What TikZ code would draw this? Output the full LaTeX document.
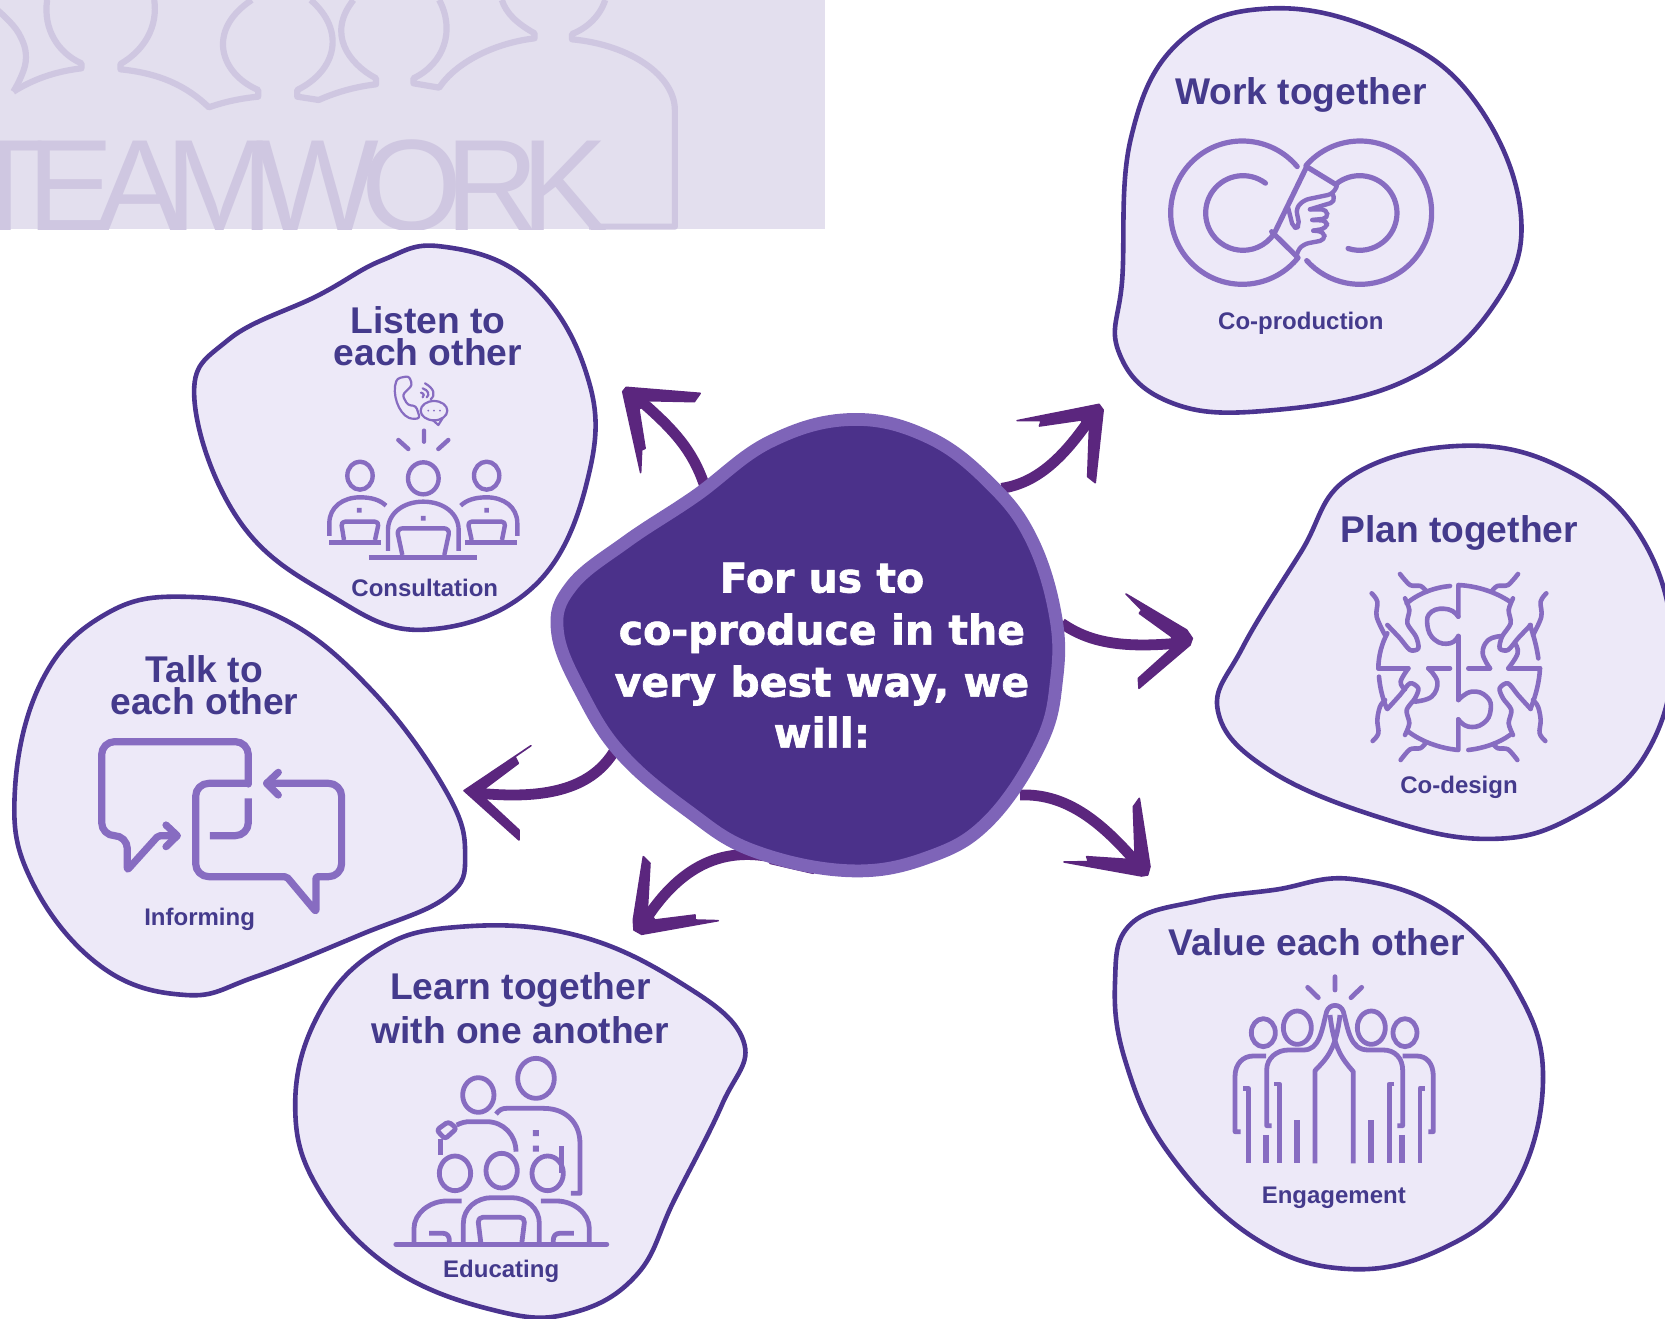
\documentclass[tikz,border=0pt]{standalone}
\usepackage{fontspec}
\setmainfont{Liberation Sans}
\newfontfamily\teamf{Liberation Sans}[LetterSpace=-13.5]
\newfontfamily\hubf{DejaVu Sans}[BoldFeatures={FakeBold=1.6}]
\definecolor{bgrect}{HTML}{E3DFEE}
\definecolor{bgline}{HTML}{CFC7E1}
\definecolor{blobfill}{HTML}{EDE9F8}
\definecolor{blobline}{HTML}{4B3490}
\definecolor{hubfill}{HTML}{4B318A}
\definecolor{hubline}{HTML}{7E64B8}
\definecolor{arrowc}{HTML}{5B267E}
\definecolor{iconc}{HTML}{876CC1}
\definecolor{textc}{HTML}{443A8C}
\tikzset{
  x=0.5pt,y=-0.5pt,
  blob/.style={draw=blobline,fill=blobfill,line width=2.3pt},
  hubshape/.style={draw=hubline,fill=hubfill,line width=6.4pt},
  shaft/.style={draw=arrowc,line width=5.4pt},
  head/.style={fill=arrowc,draw=arrowc,line width=.8pt,line join=round},
  icon/.style={draw=iconc,line width=#1,line cap=round,line join=round},
  icon/.default=2.3pt,
  square/.style={fill=iconc},
  bgart/.style={bgline,line width=3.1pt,line join=round},
  title/.style={text=textc,align=center,font=\bfseries\fontsize{18.6}{#1}\selectfont,inner sep=0pt},
  title/.default=22,
  sub/.style={text=textc,font=\bfseries\fontsize{12}{14}\selectfont,inner sep=0pt},
  hubtext/.style={text=white,anchor=base,font=\hubf\bfseries\fontsize{20.5}{26}\selectfont,inner sep=0pt},
}
\begin{document}
\begin{tikzpicture}
\clip (0,0) rectangle (1665,1318);
\useasboundingbox (0,0) rectangle (1665,1318);
% background picture
\begin{scope}
\clip (0,0) rectangle (825,229);
\fill[bgrect] (0,0) rectangle (825,229);
\node[anchor=base west,inner sep=0pt,text=bgline,font=\teamf\fontsize{65}{65}\selectfont] (team) at (-35,230) {TEAMWORK};
\begin{scope}[xscale=0.5356,yscale=0.3333]
\draw[bgart] plot[smooth,tension=.7] coordinates {(-5,30) (35,100) (48,185) (25,275)};
\draw[bgart] (25,275) .. controls (60,240) and (100,215) .. (152,205) -- (152,190) .. controls (110,160) and (80,90) .. (88,0);
\draw[bgart] (288,0) .. controls (295,80) and (270,150) .. (225,192) -- (225,208) .. controls (300,220) and (350,260) .. (390,322) .. controls (420,305) and (450,295) .. (482,290) -- (482,270) .. controls (410,220) and (385,90) .. (470,0);
\draw[bgart] (580,0) .. controls (645,90) and (630,210) .. (555,270) -- (555,290) -- (595,300) .. controls (630,275) and (665,260) .. (702,253) -- (702,235) .. controls (650,190) and (610,100) .. (660,0);
\draw[bgart] (820,0) .. controls (850,90) and (830,190) .. (772,235) -- (772,250) -- (820,263) .. controls (850,190) and (920,130) .. (998,115) -- (998,100) .. controls (965,70) and (945,40) .. (937,0);
\draw[bgart] (1130,0) .. controls (1120,50) and (1095,85) .. (1068,102) -- (1068,118) .. controls (1180,135) and (1260,230) .. (1260,330) -- (1260,680) -- (1100,680);
\end{scope}
\end{scope}
% arrows, under the hub
\coordinate (a1s) at (705.5,488.6);
\coordinate (a1t) at (636.5,397.2);
\coordinate (a2s) at (1001.5,488.3);
\coordinate (a2t) at (1092.7,415);
\coordinate (a3s) at (1061.7,623.3);
\coordinate (a3t) at (1176.7,643.3);
\coordinate (a4s) at (1020,795);
\coordinate (a4t) at (1140,866.7);
\coordinate (a5s) at (615,750);
\coordinate (a5t) at (480,793.3);
\coordinate (a6s) at (770,856.7);
\coordinate (a6t) at (643.3,923.3);
\draw[shaft] (a1s) .. controls (693,449) and (672,428) .. (a1t);
\draw[shaft] (a2s) .. controls (1038,483) and (1065,456) .. (a2t);
\draw[shaft] (a3s) .. controls (1090,643) and (1123,648) .. (a3t);
\draw[shaft] (a4s) .. controls (1067,793) and (1103,823) .. (a4t);
\draw[shaft] (a5s) .. controls (593,787) and (550,800) .. (a5t);
\draw[shaft] (a6s) .. controls (717,847) and (677,870) .. (a6t);
\begin{scope}[shift={(590,380)},xscale=0.3444,yscale=0.3333]
\filldraw[head] (95,35) -- (105,22) -- (320,40) -- (303,65) -- (170,62) -- (142,88) -- (160,205) -- (150,210) -- (147,278) -- cycle;
\filldraw[head] (1490,90) -- (1478,73) -- (1240,122) -- (1310,122) -- (1305,138) -- (1425,120) -- (1450,150) -- (1445,290) -- (1467,308) -- cycle;
\end{scope}
\begin{scope}[shift={(990,580)},scale=0.3333]
\filldraw[head] (607,175) -- (590,150) -- (408,42) -- (455,90) -- (448,100) -- (545,170) -- (545,205) -- (445,295) -- (447,325) -- (600,195) -- cycle;
\filldraw[head] (480,860) -- (473,885) -- (455,888) -- (222,846) -- (295,845) -- (290,830) -- (410,838) -- (435,815) -- (430,680) -- (448,655) -- cycle;
\end{scope}
\begin{scope}[shift={(450,700)},scale=0.3333]
\filldraw[head] (42,272) -- (243,137) -- (195,170) -- (205,190) -- (105,265) -- (110,300) -- (207,390) -- (207,420) -- cycle;
\filldraw[head] (580,470) -- (600,490) -- (592,630) -- (615,660) -- (735,645) -- (735,660) -- (805,662) -- (575,703) -- (552,690) -- (550,660) -- cycle;
\filldraw[head] (960,465) -- (1090,520) -- (960,490) -- cycle;
\end{scope}
% blobs, coordinates as shown at 1568 wide
\begin{scope}[scale=1.0619]
\draw[blob] plot[smooth cycle,tension=.68] coordinates {(1195,8) (1300,30) (1385,90) (1432,200) (1405,290) (1320,360) (1190,387) (1100,378) (1053,330) (1057,260) (1065,130) (1110,40)};
\draw[blob] plot[smooth cycle,tension=.68] coordinates {(415,232) (495,262) (550,345) (556,440) (505,550) (400,593) (310,560) (225,490) (183,375) (215,320) (300,278) (360,245)};
\draw[blob] plot[smooth cycle,tension=.68] coordinates {(1372,420) (1470,440) (1545,505) (1575,610) (1550,710) (1480,770) (1400,790) (1300,770) (1195,725) (1147,670) (1170,610) (1225,520) (1270,450)};
\draw[blob] plot[smooth cycle,tension=.68] coordinates {(175,562) (265,582) (350,650) (420,745) (438,805) (420,845) (340,880) (240,920) (175,937) (95,910) (30,830) (14,745) (40,640) (100,578)};
\draw[blob] plot[smooth cycle,tension=.68] coordinates {(430,873) (540,880) (640,925) (700,980) (680,1040) (635,1130) (600,1200) (540,1236) (470,1235) (370,1195) (300,1120) (278,1040) (300,955) (355,895)};
\draw[blob] plot[smooth cycle,tension=.68] coordinates {(1275,828) (1365,860) (1430,935) (1453,1020) (1425,1120) (1360,1175) (1270,1195) (1180,1165) (1100,1085) (1060,1000) (1050,925) (1065,870) (1130,848) (1200,838)};
\draw[hubshape] plot[smooth cycle,tension=.66] coordinates {(802,395) (875,412) (934,457) (972,509) (994,580) (995,640) (980,700) (932,772) (875,807) (800,820) (709,801) (647,763) (586,711) (549,655) (525,595) (538,552) (590,510) (655,467) (725,416)};
% text
\node[title=16] (t1) at (1225,89.5) {Work together};
\node[sub] (s1) at (1225,304.5) {Co-production};
\node[title=16] (t2) at (403,317) {Listen to\\each other};
\node[sub] (s2) at (400,554) {Consultation};
\node[title=16] (t3) at (1374,502) {Plan together};
\node[sub] (s3) at (1374,741) {Co-design};
\node[title=16] (t4) at (192.5,645) {Talk to\\each other};
\node[sub] (s4) at (188,866) {Informing};
\node[title=21.8] (t5) at (490,949.5) {Learn together\\with one another};
\node[sub] (s5) at (472,1197.5) {Educating};
\node[title=16] (t6) at (1240,887.5) {Value each other};
\node[sub] (s6) at (1256,1128) {Engagement};
\node[hubtext] (h1) at (774,558) {For us to};
\node[hubtext] (h2) at (774,607) {co-produce in the};
\node[hubtext] (h3) at (774,656) {very best way, we};
\node[hubtext] (h4) at (774,704) {will:};
\end{scope}
% co-production icon
\begin{scope}[shift={(1150,120)},scale=0.3333]
\draw[icon=2.6pt] (277,278) ++(-40:215) arc (-40:-321:215) -- (365,335);
\draw[icon=2.6pt] (279,279) ++(-53:112) arc (-53:-327:112) -- (470,140);
\draw[icon=2.6pt] (630,278) ++(-139:215) arc (-139:138:215);
\draw[icon=2.6pt] (470,140) -- (560,195);
\draw[icon=2.6pt] (629,279) ++(-130:112) arc (-130:108:112);
\draw[icon=2.2pt,rounded corners=2.5pt] (560,200) -- (548,222) -- (462,240) -- (438,265) -- (449,320) -- (430,325) -- (414,262);
\draw[icon=2.2pt,rounded corners=2.5pt] (548,222) -- (556,245) -- (480,268);
\draw[icon=2.2pt,rounded corners=2.5pt] (480,268) -- (530,268) -- (534,295) -- (487,300);
\draw[icon=2.2pt,rounded corners=2.5pt] (487,300) -- (532,302) -- (530,325) -- (490,332);
\draw[icon=2.2pt,rounded corners=2.5pt] (490,332) -- (522,335) -- (525,360) -- (462,372) -- (442,392) -- (440,410);
\end{scope}
% consultation icon
\begin{scope}[shift={(310,360)},scale=0.3333]
\draw[icon=2.2pt] (150,347) ellipse (38 and 42) (340,355) ellipse (46 and 48) (530,347) ellipse (38 and 42);
\draw[icon=2.2pt,line cap=butt] (58,528) -- (58,490) .. controls (58,440) and (100,412) .. (150,412) .. controls (185,412) and (210,420) .. (228,437);
\draw[icon=2.2pt,line cap=butt] (234,573) -- (234,510) .. controls (234,460) and (280,425) .. (340,425) .. controls (400,425) and (446,460) .. (446,510) -- (446,573);
\draw[icon=2.2pt,line cap=butt] (622,528) -- (622,490) .. controls (622,440) and (580,412) .. (530,412) .. controls (495,412) and (470,420) .. (452,437);
\fill[square] (141,444) rectangle (155,458) (333,468) rectangle (347,482) (523,444) rectangle (537,458);
\draw[icon=2.2pt,rounded corners=2pt,line cap=butt] (102,540) -- (93,485) -- (207,485) -- (195,540);
\draw[icon=2.2pt,rounded corners=2pt,line cap=butt] (485,540) -- (473,485) -- (587,485) -- (576,540);
\draw[icon=2.2pt,rounded corners=3pt,line cap=butt] (277,585) -- (260,505) -- (420,505) -- (403,585);
\draw[iconc,line width=2.4pt] (57,547) -- (213,547) (465,547) -- (621,547) (177,592) -- (501,592);
\draw[icon=2.2pt] (342,212) -- (342,245) (265,240) -- (295,267) (385,267) -- (415,240);
\draw[icon=1.1pt,rounded corners=1.5pt] (297,48) -- (262,55) .. controls (245,100) and (265,160) .. (305,177) -- (330,175) -- (318,138) -- (293,135) -- (277,105) -- (307,75) -- cycle;
\draw[icon=1.1pt] (372,152) ellipse (40 and 29);
\draw[icon=1.1pt] (368,180) -- (385,195) -- (397,176);
\fill[square] (355,152) circle (3) (372,152) circle (3) (390,152) circle (3);
\draw[icon=1.1pt] (345,70) .. controls (372,85) and (378,105) .. (362,118) (338,85) .. controls (355,90) and (360,105) .. (350,112) (333,98) .. controls (342,100) and (345,108) .. (338,112);
\end{scope}
% co-design icon
\begin{scope}[shift={(1350,560)},scale=0.3333]
\draw[icon] (300,78) .. controls (255,82) and (205,100) .. (170,130);
\draw[icon] (325,170) -- (325,75) .. controls (380,78) and (435,95) .. (480,125);
\draw[icon] plot[smooth,tension=.8] coordinates {(325,170) (295,148) (245,155) (232,195) (255,240) (300,250) (325,228)};
\draw[icon] (325,228) -- (325,420);
\draw[icon] plot[smooth,tension=.8] coordinates {(325,420) (365,395) (410,410) (422,450) (400,490) (355,500) (325,478)};
\draw[icon] (325,478) -- (325,570) .. controls (270,565) and (215,545) .. (175,515);
\draw[icon] (355,570) .. controls (400,565) and (445,550) .. (480,525);
\draw[icon] (85,325) -- (175,325) (235,325) -- (300,325) (355,325) -- (420,325) (475,325) -- (570,325);
\draw[icon] (112,220) .. controls (95,250) and (85,290) .. (85,325);
\draw[icon] (87,350) .. controls (90,385) and (98,415) .. (110,445);
\draw[icon] (565,295) .. controls (560,260) and (552,230) .. (540,195);
\draw[icon] (570,325) .. controls (568,365) and (558,405) .. (542,445);
\draw[icon] plot[smooth,tension=.7] coordinates {(235,325) (262,365) (245,410) (195,425)};
\draw[icon] plot[smooth,tension=.7] coordinates {(175,325) (152,365) (165,388)};
\draw[icon] plot[smooth,tension=.7] coordinates {(420,325) (398,280) (415,240) (455,228)};
\draw[icon] plot[smooth,tension=.7] coordinates {(475,325) (503,280) (495,250)};
\foreach \sx/\ox in {1/0,-1/654}{
\begin{scope}[shift={(\ox,0)},xscale=\sx]
\draw[icon] plot[smooth,tension=.6] coordinates {(65,100) (82,125) (80,170) (105,225)};
\draw[icon] plot[smooth,tension=.5] coordinates {(112,195) (150,235) (180,270) (205,265) (198,230) (172,190) (178,150) (165,115)};
\draw[icon] plot[smooth,tension=.5] coordinates {(150,42) (180,75) (212,78) (230,95)};
\draw[icon] plot[smooth,tension=.6] coordinates {(68,543) (85,520) (82,480) (90,440) (105,420)};
\draw[icon] plot[smooth,tension=.5] coordinates {(112,447) (150,405) (180,370) (205,385) (195,415) (170,450) (178,490) (165,525)};
\draw[icon] plot[smooth,tension=.5] coordinates {(152,600) (180,568) (210,565) (225,552)};
\end{scope}}
\end{scope}
% engagement icon
\begin{scope}[shift={(1210,960)},scale=0.3333]
\draw[icon=2.4pt] (375,50) -- (375,90) (293,82) -- (325,113) (423,113) -- (455,82);
\draw[icon=2.4pt] (160,218) ellipse (36 and 42) (262,203) ellipse (42 and 50) (484,203) ellipse (42 and 50) (585,218) ellipse (36 and 42);
\draw[icon=2.4pt,line cap=butt] (168,288) -- (130,288) .. controls (100,288) and (75,310) .. (75,350) -- (75,515) -- (92,515);
\draw[icon=2.4pt,line cap=butt] (100,385) -- (115,385) -- (115,610);
\draw[icon=2.4pt,line cap=butt] (185,497) -- (170,497) -- (170,330) .. controls (170,295) and (200,270) .. (235,270) -- (280,270) .. controls (330,270) and (335,210) .. (350,155) .. controls (358,130) and (392,130) .. (400,155) .. controls (415,210) and (420,270) .. (475,270) -- (520,270) .. controls (555,270) and (578,295) .. (578,330) -- (578,497) -- (562,497);
\draw[icon=2.4pt,line cap=butt] (193,372) -- (208,372) -- (208,610);
\draw[icon=2.4pt,line cap=butt] (553,372) -- (538,372) -- (538,610);
\draw[icon=2.4pt,line cap=butt] (315,610) -- (315,332) .. controls (350,295) and (378,270) .. (390,165);
\draw[icon=2.4pt,line cap=butt] (430,610) -- (430,335) .. controls (400,300) and (372,270) .. (360,165);
\draw[iconc,line width=3pt] (168,525) -- (168,610) (261,480) -- (261,610) (483,480) -- (483,610) (575,525) -- (575,610);
\draw[icon=2.4pt,line cap=butt] (578,288) -- (620,288) .. controls (650,288) and (670,310) .. (670,350) -- (670,515) -- (655,515);
\draw[icon=2.4pt,line cap=butt] (645,385) -- (630,385) -- (630,610);
\end{scope}
% educating icon
\begin{scope}[shift={(380,1040)},scale=0.3333]
\draw[icon=2.4pt] (468,115) ellipse (55 and 60) (295,165) ellipse (47 and 52) (225,400) ellipse (47 and 52) (365,392) ellipse (47 and 52) (503,400) ellipse (47 and 52);
\draw[icon=2.8pt,line cap=butt] (545,318) -- (545,400);
\fill[square] (459,270) rectangle (477,288) (459,317) rectangle (477,335);
\draw[icon=2.4pt,line cap=butt] (348,222) .. controls (358,210) and (365,205) .. (380,205) -- (490,205) .. controls (560,205) and (600,250) .. (600,310) -- (600,460) -- (573,460);
\draw[icon=2.4pt,rounded corners=1.5pt] (170,270) -- (205,245) -- (230,265) -- (195,297) -- cycle;
\draw[icon=2.4pt,line cap=butt] (181,345) -- (181,297);
\draw[icon=2.4pt,line cap=butt] (230,255) .. controls (245,248) and (255,245) .. (270,245) -- (320,245) .. controls (370,245) and (408,285) .. (408,335);
\draw[icon=2.4pt,line cap=butt] (102,613) -- (102,565) .. controls (102,520) and (150,483) .. (200,483) -- (245,483);
\draw[icon=2.4pt,line cap=butt] (250,613) -- (250,550) .. controls (250,505) and (290,473) .. (335,473) -- (395,473) .. controls (440,473) and (478,505) .. (478,550) -- (478,613);
\draw[icon=2.4pt,line cap=butt] (483,483) -- (530,483) .. controls (580,483) and (628,520) .. (628,565) -- (628,613);
\draw[icon=2.4pt,rounded corners=2.5pt,line cap=butt] (303,613) -- (293,532) -- (435,532) -- (425,613);
\draw[icon=2.4pt,line cap=butt] (147,580) -- (190,580) .. controls (202,580) and (208,590) .. (208,600) -- (208,613);
\draw[icon=2.4pt,line cap=butt] (520,613) -- (520,600) .. controls (520,590) and (526,580) .. (538,580) -- (582,580);
\draw[icon=2.6pt] (48,613) -- (680,613);
\end{scope}
% informing icon
\begin{scope}[shift={(80,720)},scale=0.3333]
\draw[icon=3.6pt] (505,192) [rounded corners=6.5pt] -- (505,65) -- (65,65) -- (65,347) -- (142,347) [rounded corners=1pt] -- (142,450) -- (235,347) -- (290,347);
\draw[icon=3.6pt] (258,315) -- (292,347) -- (258,380);
\draw[icon=3.6pt,line cap=butt,rounded corners=6.5pt] (505,235) -- (505,347) -- (390,347);
\draw[icon=3.6pt] (505,190) [rounded corners=6.5pt] -- (347,190) -- (347,470) [rounded corners=1pt] -- (620,470) -- (708,575) -- (708,470) [rounded corners=6.5pt] -- (785,470) -- (785,190) -- (560,190);
\draw[icon=3.6pt] (595,157) -- (560,190) -- (595,225);
\end{scope}
\end{tikzpicture}
\end{document}
